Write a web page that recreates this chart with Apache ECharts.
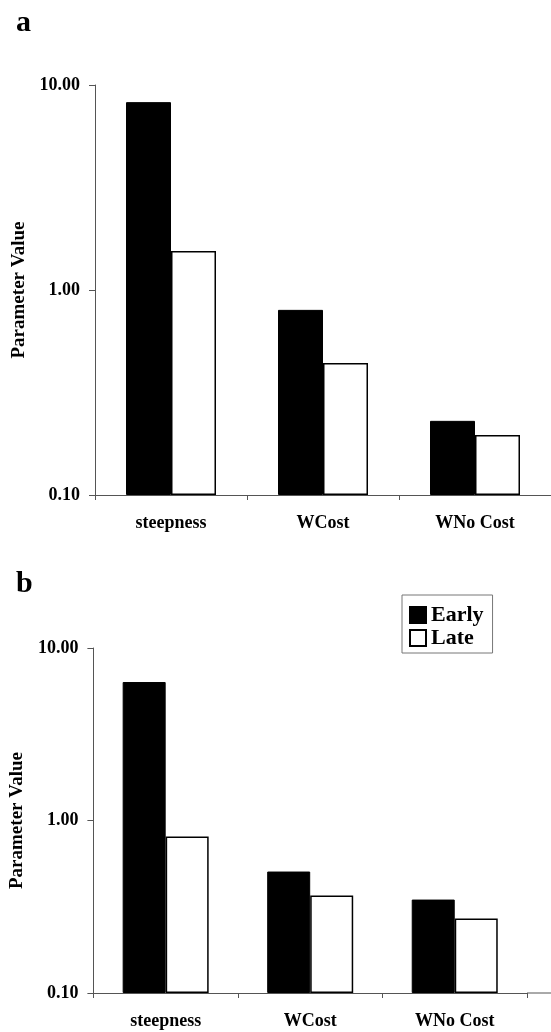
<!DOCTYPE html>
<html>
<head>
<meta charset="utf-8">
<script src="https://cdn.jsdelivr.net/npm/echarts@6/dist/echarts.min.js"></script>
<style>
  html, body { margin: 0; padding: 0; background: #fff; }
  #chart { width: 551px; height: 1032px; }
</style>
</head>
<body>
<div id="chart"></div>
<script>
// Parameter categories shared by both panels
const categories = ['steepness', 'WCost', 'WNo Cost'];

// Panel a values
const earlyA = [8.25, 0.80, 0.23];
const lateA = [1.55, 0.44, 0.196];

// Panel b values
const earlyB = [6.35, 0.506, 0.348];
const lateB = [0.807, 0.367, 0.27];

// Log-axis range and tick labels
const yMin = 0.1;
const yMax = 10;
const tickLabels = { '0.1': '0.10', '1': '1.00', '10': '10.00' };

const SERIF = '"Liberation Serif", "DejaVu Serif", serif';
const AXIS_GREY = '#555';

const chart = echarts.init(document.getElementById('chart'), null, { renderer: 'canvas' });

function yAxisFor(gridIndex) {
  return {
    type: 'log',
    logBase: 10,
    gridIndex: gridIndex,
    min: yMin,
    max: yMax,
    startValue: yMin,
    name: 'Parameter Value',
    nameLocation: 'middle',
    nameGap: 64,
    nameRotate: 90,
    nameTextStyle: { fontFamily: SERIF, fontWeight: 'bold', fontSize: 19, color: '#000' },
    axisLine: { show: true, lineStyle: { color: AXIS_GREY, width: 1 } },
    axisTick: { show: true, length: 6, inside: false, lineStyle: { color: AXIS_GREY } },
    minorTick: { show: false },
    splitLine: { show: false },
    axisLabel: {
      margin: 15,
      fontFamily: SERIF, fontWeight: 'bold', fontSize: 18, color: '#000',
      formatter: function (v) {
        const key = String(Number(v.toPrecision(3)));
        return tickLabels[key] !== undefined ? tickLabels[key] : '';
      }
    }
  };
}

function xAxisFor(gridIndex) {
  return {
    type: 'category',
    gridIndex: gridIndex,
    data: categories,
    axisLine: { show: true, lineStyle: { color: AXIS_GREY, width: 1 } },
    axisTick: { show: true, length: 5, lineStyle: { color: AXIS_GREY } },
    axisLabel: {
      margin: 19,
      fontFamily: SERIF, fontWeight: 'bold', fontSize: 18, color: '#000'
    }
  };
}

function barPair(idx, early, late, width) {
  return [
    {
      name: 'Early', type: 'bar', xAxisIndex: idx, yAxisIndex: idx,
      data: early, barWidth: width, barGap: '0%',
      itemStyle: { color: '#000', borderColor: '#000', borderWidth: 1 }
    },
    {
      name: 'Late', type: 'bar', xAxisIndex: idx, yAxisIndex: idx,
      data: late, barWidth: width, barGap: '0%',
      itemStyle: { color: '#fff', borderColor: '#000', borderWidth: 1.5 }
    }
  ];
}

const option = {
  backgroundColor: '#fff',
  animation: false,
  textStyle: { fontFamily: SERIF },
  title: [
    { text: 'a', left: 11, top: 3, textStyle: { fontFamily: SERIF, fontWeight: 'bold', fontSize: 30, color: '#000' } },
    { text: 'b', left: 11, top: 564, textStyle: { fontFamily: SERIF, fontWeight: 'bold', fontSize: 30, color: '#000' } }
  ],
  legend: {
    orient: 'vertical',
    left: 402,
    top: 595,
    padding: [9, 9, 4, 7],
    itemGap: 1,
    itemWidth: 16,
    itemHeight: 16,
    icon: 'rect',
    borderColor: '#777',
    borderWidth: 1,
    data: ['Early', 'Late'],
    textStyle: { fontFamily: SERIF, fontWeight: 'bold', fontSize: 22, color: '#000' }
  },
  grid: [
    { left: 95, right: -4, top: 85, height: 410, containLabel: false },
    { left: 92, right: 24, top: 648, height: 345, containLabel: false }
  ],
  xAxis: [xAxisFor(0), xAxisFor(1)],
  yAxis: [yAxisFor(0), yAxisFor(1)],
  series: [].concat(barPair(0, earlyA, lateA, 45), barPair(1, earlyB, lateB, 43)),
  graphic: [
    // extend the lower panel's baseline to the right edge
    { type: 'line', shape: { x1: 527, y1: 993, x2: 551, y2: 993 }, style: { stroke: AXIS_GREY, lineWidth: 1 }, silent: true }
  ]
};

chart.setOption(option);
</script>
</body>
</html>
